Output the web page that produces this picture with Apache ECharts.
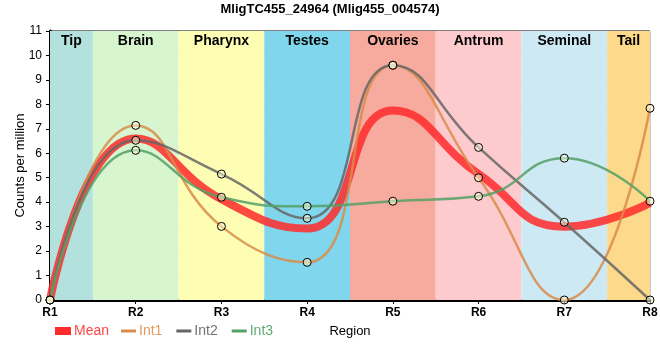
<!DOCTYPE html>
<html><head><meta charset="utf-8">
<script src="https://cdn.jsdelivr.net/npm/echarts@6/dist/echarts.min.js"></script>
<style>html,body{margin:0;padding:0;background:#fff}#c{width:660px;height:360px}</style>
</head><body><div id="c"></div>
<script>
var categories = ['R1','R2','R3','R4','R5','R6','R7','R8'];
var regions = ['Tip','Brain','Pharynx','Testes','Ovaries','Antrum','Seminal','Tail'];
var regionColors = ['#b3e2de','#d7f5cf','#fdfdb4','#80d6ec','#f6ab9e','#fdcbcd','#cde9f3','#fdd98b'];
var mean = [0, 6.6, 4.12, 2.92, 7.75, 5.15, 3.0, 3.97];
var int1 = [0, 7.14, 3.01, 1.54, 9.6, 5.0, 0, 7.84];
var int2 = [0, 6.53, 5.15, 3.34, 9.6, 6.24, 3.18, 0];
var int3 = [0, 6.12, 4.2, 3.83, 4.04, 4.24, 5.8, 4.04];
var yTicks = [0,1,2,3,4,5,6,7,8,9,10,11];
var titleText = 'MligTC455_24964 (Mlig455_004574)';

var FONT = 'Liberation Sans, Arial, sans-serif';
function pairs(a){ return a.map(function(v,i){ return [i,v]; }); }
var n = categories.length - 1;
var bands = regions.map(function(r,i){
  return [{name:r, xAxis: Math.max(0,i-0.5), itemStyle:{color:regionColors[i], opacity:1}}, {xAxis: Math.min(n,i+0.5)}];
});
function lineSeries(name, data, color, width, showSym){
  var s = {name:name, type:'line', smooth:true, data:pairs(data), z: showSym?3:2,
    lineStyle:{color:color, width:width, opacity:0.85},
    emphasis:{disabled:true}, animation:false};
  if (showSym){ s.symbol='circle'; s.symbolSize=8; s.itemStyle={color:'rgba(255,255,220,0.5)', borderColor:'#000', borderWidth:1}; }
  else { s.showSymbol=false; s.itemStyle={color:color}; }
  return s;
}
var colors = {Mean:'#ff2a2a', Int1:'#d98c4a', Int2:'#666666', Int3:'#55a066'};
var chart = echarts.init(document.getElementById('c'));
chart.setOption({
  animation:false,
  textStyle:{fontFamily:FONT},
  title:{text:titleText, left:'center', top:-2,
    textStyle:{fontFamily:FONT, fontSize:13, fontWeight:'bold', color:'#000'}},
  grid:{left:50, right:10, top:31, bottom:60, show:true, borderColor:'#000', borderWidth:1,
    backgroundColor:'transparent', containLabel:false, outerBoundsMode:'none'},
  legend:[
    {left:50, top:319, itemWidth:16, itemHeight:8, itemGap:13, icon:'rect',
      itemStyle:{borderWidth:0},
      data:[{name:'Mean', itemStyle:{color:colors.Mean, borderWidth:0}, textStyle:{color:'#ff4545'}}],
      textStyle:{fontFamily:FONT, fontSize:14, padding:[0,0,0,-2]}},
    {left:116, top:319, itemWidth:15, itemHeight:3, itemGap:14, icon:'rect',
      itemStyle:{borderWidth:0},
      data:[{name:'Int1', itemStyle:{color:colors.Int1, borderWidth:0}, textStyle:{color:'#e39a5e'}},
            {name:'Int2', itemStyle:{color:colors.Int2, borderWidth:0}, textStyle:{color:'#727272'}},
            {name:'Int3', itemStyle:{color:colors.Int3, borderWidth:0}, textStyle:{color:'#62aa72'}}],
      textStyle:{fontFamily:FONT, fontSize:14, padding:[0,0,0,-2]}}
  ],
  xAxis:{type:'value', min:0, max:n, interval:1,
    name:'Region', nameLocation:'middle', nameGap:25, nameMoveOverlap:false,
    nameTextStyle:{fontFamily:FONT, fontSize:13, color:'#000'},
    axisLine:{show:true, lineStyle:{color:'#000', width:3}},
    axisTick:{show:true, length:4, lineStyle:{color:'#000'}},
    axisLabel:{formatter:function(v){return categories[v];}, color:'#000', fontWeight:'bold', fontSize:12, fontFamily:FONT, margin:7},
    splitLine:{show:true, lineStyle:{color:'#c8c8c8', width:1}}},
  yAxis:{type:'value', min:yTicks[0], max:yTicks[yTicks.length-1], interval:1,
    name:'Counts per million', nameLocation:'middle', nameGap:23, nameMoveOverlap:false,
    nameTextStyle:{fontFamily:FONT, fontSize:13, color:'#000'},
    axisLine:{show:true, lineStyle:{color:'#000', width:3}},
    axisTick:{show:true, length:4, lineStyle:{color:'#000'}},
    axisLabel:{color:'#000', fontSize:12, fontFamily:FONT, margin:8},
    splitLine:{show:true, lineStyle:{color:'#c8c8c8', width:1}}},
  series:[
    {name:'bands', type:'line', data:[], z:-1, silent:true,
      markArea:{silent:true, data:bands,
        label:{show:true, position:'insideTop', distance:3, color:'#000', fontWeight:'bold', fontSize:14, fontFamily:FONT}}},
    lineSeries('Mean', mean, colors.Mean, 8, false),
    lineSeries('Int1', int1, colors.Int1, 2.5, true),
    lineSeries('Int2', int2, colors.Int2, 2.5, true),
    lineSeries('Int3', int3, colors.Int3, 2.5, true)
  ]
});
</script></body></html>
